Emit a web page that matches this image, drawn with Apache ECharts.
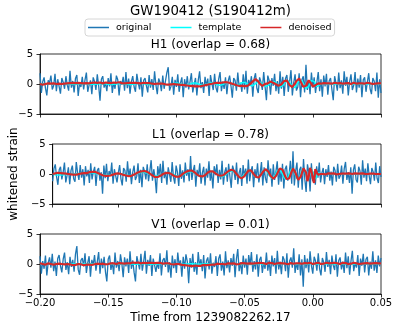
<!DOCTYPE html>
<html>
<head>
<meta charset="utf-8">
<title>GW190412 (S190412m)</title>
<script src="https://cdn.jsdelivr.net/npm/echarts@6/dist/echarts.min.js"></script>
<style>
  html, body { margin: 0; padding: 0; background: #fff; }
  #chart { width: 398px; height: 329px; }
</style>
</head>
<body>
<div id="chart"></div>
<script>
'use strict';

// samples every 1 ms from -0.200 s to +0.050 s (251 points)
var T_START = -200;   // ms
var SERIES_NAMES = ['original', 'template', 'denoised'];
var PANEL_TITLES = ['H1 (overlap = 0.68)', 'L1 (overlap = 0.78)', 'V1 (overlap = 0.01)'];
var X_TICKS = [-0.20, -0.15, -0.10, -0.05, 0.00, 0.05];
var Y_TICKS = [-5, 0, 5];

var h1Original = [
  1.8,-1.5,0.4,1.1,-0.7,-1.9,0.6,0.2,1.4,-0.9,-0.3,1.7,-1.2,0.8,-0.4,-1.6,1.0,0.3,-0.8,1.3,-0.2,-1.1,2.2,-0.6,0.5,
  -1.4,0.9,1.5,-2.0,0.1,-0.5,1.2,-0.9,0.7,1.9,-1.3,-0.2,0.6,-1.7,1.1,0.4,-1.0,1.6,-0.3,-2.8,0.8,1.3,-0.6,0.2,-1.2,
  1.0,-0.4,1.8,-1.5,0.3,-0.8,1.4,0.7,-1.9,0.5,-0.1,1.2,-1.1,2.0,-0.7,0.9,-1.6,0.4,1.3,-0.5,-1.3,1.7,0.2,-0.9,1.1,
  -2.1,0.6,1.0,-0.3,-1.4,1.5,-0.6,0.8,-1.0,2.1,-0.2,-1.7,0.9,0.3,-1.2,1.4,-0.8,0.5,1.9,2.8,-1.1,-0.4,1.2,-1.8,0.7,
  -0.5,1.6,-1.3,0.2,1.1,-2.2,0.8,-0.6,1.3,-0.9,0.4,1.8,-1.4,-0.1,1.0,-1.9,0.6,2.1,-0.7,0.3,-1.5,1.2,-0.4,0.9,-2.0,
  1.5,0.1,-1.0,1.7,-0.6,-1.4,0.8,2.0,-1.2,0.4,-0.8,1.1,-1.7,0.5,1.4,-0.3,-2.3,1.0,0.6,-1.1,1.9,-0.5,0.2,-1.3,1.6,
  -0.9,2.2,-1.6,0.7,-0.2,1.3,-2.1,0.9,1.8,-0.7,-1.5,1.1,0.3,-1.0,2.0,-0.4,-2.7,1.4,0.6,-1.8,1.0,-0.3,1.7,-1.2,0.5,
  -1.6,2.1,-0.8,1.2,-2.0,0.9,1.5,-1.3,0.4,2.3,-1.9,0.2,1.6,-1.1,-0.5,1.8,-2.2,0.7,1.3,-1.4,3.2,-1.0,0.6,-1.7,1.9,
  -0.6,1.1,-1.5,0.3,2.0,-1.2,0.8,-2.1,1.4,-0.4,1.7,-1.8,0.5,1.0,-0.9,-2.7,1.3,0.2,-1.1,1.9,-0.7,0.6,-1.6,2.1,-0.3,
  1.2,-1.9,0.4,1.6,-1.0,-0.2,2.0,-1.4,0.9,-0.6,1.5,-2.2,0.7,1.1,-1.3,0.3,1.8,-0.8,-1.7,1.0,0.5,-1.2,1.9,-2.3,0.8,
  -1.5
];
var h1Template = [
  0,0.02,0.04,0.05,0.05,0.04,0.02,0,-0.02,-0.04,-0.05,-0.05,-0.04,-0.02,0,0.02,0.04,0.05,0.05,0.04,0.02,0,-0.02,-0.04,-0.05,
  -0.05,-0.04,-0.02,0,0.02,0.04,0.06,0.06,0.05,0.03,0,-0.03,-0.05,-0.06,-0.06,-0.04,-0.02,0,0.03,0.05,0.07,0.07,0.05,0.03,0,
  -0.03,-0.06,-0.07,-0.07,-0.05,-0.02,0.01,0.04,0.07,0.08,0.07,0.05,0.02,-0.02,-0.05,-0.08,-0.09,-0.08,-0.05,-0.02,0.02,0.06,0.09,0.1,0.09,
  0.06,0.02,-0.02,-0.06,-0.1,-0.11,-0.1,-0.07,-0.03,0.02,0.07,0.11,0.12,0.1,0.06,0.01,-0.05,-0.1,-0.13,-0.13,-0.1,-0.05,0.01,0.07,0.12,
  0.15,0.14,0.1,0.04,-0.03,-0.1,-0.15,-0.17,-0.14,-0.08,0,0.08,0.15,0.18,0.17,0.11,0.03,-0.06,-0.14,-0.19,-0.19,-0.14,-0.05,0.05,0.14,
  0.2,0.21,0.16,0.07,-0.04,-0.14,-0.21,-0.23,-0.18,-0.08,0.04,0.16,0.24,0.25,0.19,0.08,-0.06,-0.18,-0.26,-0.27,-0.2,-0.07,0.08,0.21,0.29,
  0.28,0.19,0.04,-0.13,-0.27,-0.33,-0.28,-0.13,0.06,0.25,0.36,0.35,0.22,0.02,-0.2,-0.36,-0.41,-0.32,-0.12,0.13,0.35,0.46,0.42,0.22,-0.06,
  -0.33,-0.5,-0.49,-0.28,0.03,0.35,0.56,0.55,0.31,-0.06,-0.42,-0.63,-0.58,-0.26,0.18,0.56,0.72,0.55,0.12,-0.38,-0.72,-0.74,-0.38,0.16,0.6,
  0.7,0.4,-0.1,-0.45,-0.4,-0.15,0.05,0.1,0.05,-0.02,-0.03,0,0.01,0,0,0,0,0,0,0,0,0,0,0,0,
  0,0,0,0,0,0,0,0,0,0,0,0,0,0,0,0,0,0,0,0,0,0,0,0,0,
  0
];
var h1Denoised = [
  0.0,0.1,-0.1,0.05,0.0,-0.05,0.1,0.0,0.05,-0.05,0.1,0.05,0.0,0.1,0.05,0.15,0.0,0.1,0.05,0.15,0.1,0.05,0.15,0.1,0.2,
  0.1,0.15,0.05,0.2,0.1,0.15,0.2,0.1,0.25,0.15,0.2,0.1,0.25,0.2,0.15,0.25,0.1,0.2,0.15,0.25,0.2,0.1,0.2,0.25,0.15,
  0.2,0.3,0.15,0.2,0.25,0.1,0.2,0.15,0.3,0.2,0.15,0.25,0.1,0.2,0.15,0.25,0.2,0.1,0.2,0.15,0.2,0.1,0.15,0.2,0.1,
  0.15,0.2,0.1,0.15,0.05,0.15,0.1,0.05,0.1,0.0,0.1,0.05,0.0,0.05,-0.05,0.05,0.0,-0.05,0.05,-0.1,0.0,-0.05,-0.1,0.0,-0.1,
  -0.05,-0.15,-0.1,-0.2,-0.15,-0.25,-0.2,-0.3,-0.25,-0.35,-0.3,-0.4,-0.35,-0.45,-0.4,-0.5,-0.4,-0.45,-0.35,-0.4,-0.25,-0.3,-0.15,-0.2,-0.05,
  0.0,0.05,0.1,0.15,0.1,0.2,0.25,0.2,0.3,0.25,0.35,0.3,0.35,0.25,0.2,0.1,0.05,-0.05,-0.1,-0.2,-0.25,-0.3,-0.35,-0.3,-0.4,
  -0.35,-0.4,-0.3,-0.2,0.0,0.2,0.45,0.65,0.8,0.75,0.45,0.1,-0.2,-0.3,-0.15,0.0,0.15,0.1,0.3,0.4,0.35,0.2,0.05,-0.05,-0.2,
  -0.3,-0.25,-0.05,0.25,0.5,0.6,0.55,0.2,-0.2,-0.45,-0.5,-0.3,0.1,0.5,0.8,0.9,0.6,0.0,-0.45,-0.6,-0.3,0.2,0.6,0.5,0.0,
  -0.4,-0.5,-0.2,0.05,0.1,0.15,0.05,0.1,0.15,0.05,0.1,0.0,0.1,0.15,0.05,0.1,0.2,0.05,0.1,0.0,0.15,0.1,0.05,0.15,0.1,
  0.05,0.15,0.1,0.0,0.1,0.2,0.1,0.05,0.15,0.1,0.0,0.1,0.15,0.05,0.1,0.2,0.05,0.1,0.15,0.0,0.1,0.05,0.15,0.1,0.05,
  0.1
];

var l1Original = [
  -1.2,0.9,1.6,-0.5,-1.8,0.7,1.2,-0.9,0.3,1.9,-1.4,-0.2,1.1,-1.7,0.6,1.4,-0.8,-1.3,2.0,0.2,-1.0,1.5,-0.6,0.8,-1.9,
  1.3,-0.4,0.7,-1.5,1.8,-0.9,0.4,1.2,-2.0,0.6,1.0,-1.1,0.3,-3.3,1.4,-0.7,1.7,-1.2,0.5,-0.3,1.9,-1.6,0.8,1.1,-1.4,
  0.2,1.5,-0.8,-1.9,1.0,0.6,-1.3,2.1,-0.5,0.9,-1.7,0.3,1.4,-1.0,-0.4,1.8,-1.5,0.7,-2.2,1.2,0.4,-0.9,1.6,-1.2,0.5,
  2.3,-1.1,0.8,-0.6,-3.2,1.3,-0.2,1.7,-1.5,2.2,-0.7,0.4,-1.8,1.1,0.9,-1.3,2.0,-0.5,-1.6,1.4,0.3,-2.0,1.6,-0.8,0.6,
  -1.4,1.9,-0.3,0.8,-1.2,3.0,-1.0,0.5,1.5,-2.1,0.7,-0.4,1.8,-1.6,0.2,1.2,-1.9,0.9,-0.6,2.1,-1.1,0.4,-2.4,1.3,-0.2,
  1.6,-1.5,0.7,-0.9,2.2,-1.8,0.3,1.1,-1.3,1.7,-0.5,-2.3,1.4,0.6,-1.0,1.9,-1.7,0.2,1.0,-2.0,1.5,-0.4,0.9,-1.6,2.4,
  -1.2,0.5,1.3,-2.2,0.8,-0.6,1.8,-1.4,0.1,2.0,-1.9,1.1,-0.7,-1.5,2.3,-0.3,0.9,-2.1,1.6,-1.0,0.4,2.1,-1.8,0.6,-1.3,
  1.7,-2.4,0.8,1.4,-1.1,-0.2,2.2,-1.6,3.8,-1.9,0.5,1.9,-2.3,0.7,1.2,-2.6,2.5,-0.9,-3.0,1.6,0.3,-2.9,1.8,-1.2,0.4,
  -1.8,1.3,-0.6,1.9,-1.4,0.2,1.0,-1.7,0.8,-0.5,1.5,-1.1,0.4,-1.9,1.2,0.6,-1.3,1.7,-0.8,-0.3,1.4,-1.6,0.9,2.0,-1.0,
  0.3,-1.5,1.1,-3.3,0.7,1.6,-0.9,-1.4,1.2,0.5,-1.8,2.3,-0.6,0.9,-1.2,1.8,-0.3,-1.7,1.0,0.4,-1.1,1.9,-0.7,-1.5,1.3,
  -0.5
];
var l1Template = [
  -0.05,-0.08,-0.11,-0.13,-0.15,-0.16,-0.16,-0.15,-0.14,-0.12,-0.1,-0.08,-0.06,-0.04,-0.02,0,0.02,0.04,0.06,0.08,0.1,0.12,0.14,0.16,0.17,
  0.18,0.19,0.2,0.2,0.2,0.19,0.17,0.14,0.1,0.06,0.01,-0.04,-0.09,-0.13,-0.17,-0.2,-0.22,-0.22,-0.2,-0.17,-0.12,-0.07,-0.02,0.03,0.07,
  0.09,0.08,0.05,0.01,-0.04,-0.1,-0.16,-0.2,-0.23,-0.24,-0.22,-0.17,-0.1,-0.02,0.07,0.15,0.22,0.27,0.3,0.31,0.29,0.24,0.16,0.07,-0.04,
  -0.14,-0.23,-0.3,-0.34,-0.35,-0.32,-0.26,-0.17,-0.07,0.03,0.12,0.19,0.23,0.24,0.21,0.14,0.05,-0.06,-0.17,-0.27,-0.34,-0.37,-0.35,-0.28,-0.17,
  -0.04,0.1,0.23,0.33,0.39,0.4,0.36,0.27,0.14,-0.01,-0.16,-0.29,-0.38,-0.42,-0.4,-0.32,-0.19,-0.03,0.14,0.29,0.4,0.45,0.43,0.34,0.19,
  0.01,-0.17,-0.32,-0.42,-0.45,-0.4,-0.27,-0.09,0.11,0.3,0.45,0.52,0.5,0.37,0.16,-0.09,-0.33,-0.5,-0.57,-0.52,-0.34,-0.08,0.2,0.45,0.6,
  0.62,0.48,0.22,-0.1,-0.4,-0.6,-0.63,-0.48,-0.19,0.16,0.48,0.68,0.68,0.47,0.11,-0.29,-0.62,-0.76,-0.66,-0.33,0.12,0.55,0.82,0.83,0.52,
  0.02,-0.5,-0.85,-0.9,-0.6,-0.05,0.52,0.88,0.85,0.4,-0.25,-0.8,-0.98,-0.62,0.1,0.78,1.0,0.55,-0.3,-0.95,-0.85,0.05,0.9,0.85,-0.2,
  -0.85,-0.45,0.2,0.3,0.05,-0.1,-0.05,0.02,0.02,0,0,0,0,0,0,0,0,0,0,0,0,0,0,0,0,
  0,0,0,0,0,0,0,0,0,0,0,0,0,0,0,0,0,0,0,0,0,0,0,0,0,
  0
];
var l1Denoised = [
  0.0,0.05,0.1,0.15,0.2,0.2,0.15,0.2,0.1,0.15,0.05,0.05,0.0,0.05,-0.05,0.0,-0.1,-0.05,-0.1,-0.05,0.0,0.05,0.1,0.05,0.15,
  0.2,0.15,0.25,0.3,0.25,0.35,0.3,0.35,0.25,0.2,0.1,0.0,-0.1,-0.2,-0.25,-0.3,-0.35,-0.3,-0.35,-0.25,-0.2,-0.1,-0.05,0.05,0.0,
  0.1,0.05,0.0,-0.05,-0.15,-0.2,-0.25,-0.3,-0.35,-0.35,-0.3,-0.2,-0.1,0.0,0.15,0.25,0.35,0.4,0.45,0.5,0.5,0.45,0.35,0.2,0.05,
  -0.1,-0.25,-0.4,-0.5,-0.55,-0.5,-0.4,-0.3,-0.15,0.0,0.1,0.15,0.2,0.2,0.15,0.05,-0.1,-0.25,-0.4,-0.45,-0.5,-0.45,-0.35,-0.2,0.0,
  0.15,0.3,0.4,0.5,0.55,0.6,0.55,0.45,0.3,0.1,-0.1,-0.25,-0.35,-0.4,-0.4,-0.35,-0.2,0.0,0.2,0.35,0.45,0.5,0.45,0.3,0.1,
  -0.05,-0.2,-0.25,-0.3,-0.3,-0.2,-0.05,0.15,0.35,0.5,0.6,0.7,0.7,0.55,0.3,0.0,-0.3,-0.5,-0.65,-0.7,-0.6,-0.35,0.0,0.3,0.55,
  0.7,0.6,0.35,0.0,-0.3,-0.5,-0.6,-0.55,-0.3,0.0,0.35,0.6,0.8,0.75,0.45,0.05,-0.35,-0.65,-0.8,-0.7,-0.35,0.1,0.55,0.9,1.0,
  0.7,0.2,-0.35,-0.8,-1.0,-0.75,-0.2,0.45,0.9,0.7,0.15,-0.5,-0.95,-1.0,-0.4,0.35,0.95,1.1,0.2,-1.2,-0.4,1.0,0.6,-0.7,-1.5,
  0.8,0.3,-0.1,0.05,0.0,0.1,0.0,0.05,-0.05,0.05,0.1,0.0,0.05,0.0,0.1,0.05,-0.05,0.05,0.0,0.1,0.05,0.0,0.05,-0.05,0.05,
  0.0,0.1,0.05,0.0,0.05,0.1,0.0,0.05,-0.05,0.05,0.0,0.1,0.05,0.0,0.05,0.0,0.1,0.05,0.0,0.05,0.1,0.0,0.05,0.0,0.05,
  0.0
];

var v1Original = [
  1.3,-1.6,0.5,-0.8,1.4,-1.9,0.2,1.1,-0.6,1.7,-1.2,0.4,-2.0,0.9,1.5,-0.3,-1.4,0.8,1.9,-1.0,0.3,-1.7,1.2,-0.5,0.7,
  -1.3,1.6,3.0,-0.9,-1.8,0.6,1.0,-0.4,1.8,-1.5,0.2,1.3,-2.1,0.7,-0.2,1.5,-1.1,0.4,2.0,-1.6,0.9,-0.7,1.2,-1.3,-2.9,
  0.8,1.4,-1.0,0.3,-1.7,1.9,-0.6,0.5,-1.2,1.6,0.1,-2.2,1.1,-0.4,0.9,-1.5,2.1,-0.8,0.6,-1.4,-2.9,1.3,0.2,-0.9,1.7,
  -1.1,0.4,2.2,-1.6,0.7,-0.3,1.5,-2.0,0.9,1.2,-1.3,0.2,-0.8,1.8,-1.9,0.6,1.0,-0.5,2.3,-1.4,0.3,-2.3,1.4,-0.7,0.8,
  -1.5,1.9,-0.2,0.6,-2.1,1.2,-0.8,1.6,0.4,-3.2,1.0,-0.6,1.7,-1.3,0.3,-1.8,2.0,-0.4,0.8,-1.2,1.5,-2.4,0.5,1.1,-0.9,
  1.8,-1.6,0.2,-0.5,1.3,-2.0,0.9,1.6,-1.1,0.4,-1.9,2.1,-0.7,0.6,-1.4,1.0,-0.3,1.7,-2.2,0.8,2.5,-1.2,0.3,-1.7,1.4,
  -0.6,0.9,-1.8,1.5,-0.2,2.0,-1.3,0.5,-0.9,1.6,-2.1,0.7,1.2,-1.5,0.3,-0.8,1.9,-1.1,0.6,-2.0,1.4,-0.4,1.0,-1.6,2.2,
  -0.9,0.4,-1.7,1.3,0.7,-1.2,1.8,-2.3,0.5,1.1,-0.6,2.6,-1.5,0.2,-1.0,1.6,-1.9,0.8,-3.8,1.5,-0.7,0.9,-1.4,2.1,-0.3,
  -1.6,1.2,0.5,-1.1,1.8,-0.8,-1.9,1.0,0.3,-1.3,2.0,-0.5,0.7,-1.7,1.4,-0.2,-1.0,1.6,-2.1,0.6,1.1,-0.9,0.4,-1.5,1.9,
  -0.7,1.3,-1.8,0.5,2.2,-1.2,0.2,-0.6,1.5,-2.0,0.9,-0.3,1.7,-1.4,0.8,1.2,-1.9,0.4,-0.8,2.1,-1.1,0.6,-1.5,1.4,-0.4,
  1.0
];
var v1Template = [
  0,0,0.01,0.01,0.02,0.02,0.02,0.01,0.01,0,0,-0.01,-0.01,-0.02,-0.02,-0.02,-0.01,-0.01,0,0,0.01,0.01,0.02,0.02,0.02,
  0.01,0.01,0,-0.01,-0.01,-0.02,-0.02,-0.02,-0.01,0,0.01,0.02,0.02,0.03,0.02,0.01,0,-0.01,-0.02,-0.03,-0.03,-0.02,-0.01,0,0.01,
  0.02,0.03,0.03,0.02,0.01,0,-0.02,-0.03,-0.03,-0.02,-0.01,0.01,0.02,0.03,0.04,0.03,0.02,0,-0.02,-0.03,-0.04,-0.03,-0.02,0,0.02,
  0.03,0.04,0.04,0.03,0.01,-0.01,-0.03,-0.04,-0.04,-0.03,-0.01,0.01,0.03,0.05,0.05,0.03,0.01,-0.02,-0.04,-0.05,-0.04,-0.02,0,0.03,0.05,
  0.05,0.04,0.02,-0.01,-0.04,-0.05,-0.05,-0.03,0,0.03,0.05,0.06,0.04,0.01,-0.02,-0.05,-0.06,-0.05,-0.02,0.01,0.04,0.06,0.06,0.03,0,
  -0.03,-0.06,-0.07,-0.05,-0.01,0.03,0.06,0.07,0.05,0.01,-0.03,-0.06,-0.07,-0.05,-0.01,0.04,0.07,0.07,0.04,-0.01,-0.05,-0.08,-0.07,-0.03,0.02,
  0.06,0.08,0.06,0.01,-0.04,-0.08,-0.08,-0.04,0.01,0.06,0.09,0.07,0.02,-0.04,-0.08,-0.09,-0.05,0.01,0.07,0.1,0.07,0.01,-0.06,-0.1,-0.08,
  -0.02,0.05,0.1,0.09,0.03,-0.05,-0.1,-0.08,-0.01,0.07,0.11,0.07,-0.02,-0.1,-0.1,-0.02,0.08,0.12,0.05,-0.07,-0.12,-0.05,0.08,0.1,-0.03,
  -0.1,-0.04,0.03,0.02,0,0,0,0,0,0,0,0,0,0,0,0,0,0,0,0,0,0,0,0,0,
  0,0,0,0,0,0,0,0,0,0,0,0,0,0,0,0,0,0,0,0,0,0,0,0,0,
  0
];
var v1Denoised = [
  0.1,0.3,0.0,0.15,-0.1,0.05,0.1,-0.05,0.0,0.1,-0.1,0.05,0.0,-0.05,0.05,-0.1,0.0,-0.15,-0.05,-0.1,0.0,-0.15,-0.05,-0.1,-0.2,
  -0.05,-0.15,-0.1,0.0,-0.15,-0.05,-0.1,-0.2,-0.05,-0.1,0.0,-0.1,-0.05,-0.15,0.0,-0.05,-0.1,0.05,-0.05,0.0,-0.1,0.05,0.0,-0.05,0.1,
  0.0,0.05,0.1,-0.05,0.1,0.05,0.0,0.1,0.15,0.05,0.1,0.2,0.05,0.15,0.1,0.2,0.1,0.15,0.25,0.1,0.2,0.15,0.25,0.2,0.1,
  0.25,0.2,0.3,0.15,0.25,0.2,0.3,0.2,0.25,0.15,0.25,0.2,0.1,0.2,0.15,0.05,0.15,0.1,0.0,0.1,0.05,0.0,0.1,-0.05,0.05,
  0.0,-0.1,0.0,-0.05,-0.15,-0.1,-0.2,-0.15,-0.25,-0.2,-0.3,-0.25,-0.35,-0.3,-0.25,-0.35,-0.3,-0.2,-0.3,-0.25,-0.15,-0.25,-0.2,-0.1,-0.15,
  -0.05,-0.1,0.0,-0.1,-0.05,0.05,-0.05,0.0,-0.1,0.0,0.05,-0.05,0.0,0.1,-0.05,0.05,0.0,0.1,0.05,-0.05,0.1,0.0,0.05,0.15,0.05,
  0.1,0.2,0.05,0.15,0.1,0.2,0.05,0.15,0.1,0.0,0.15,0.1,0.2,0.05,0.1,0.15,0.0,0.1,0.2,0.05,0.15,0.1,0.0,0.15,0.1,
  0.05,0.15,0.0,0.1,0.2,0.05,0.1,-0.05,0.1,0.15,0.0,0.05,0.15,0.1,0.0,0.1,0.2,0.05,0.1,0.15,0.0,0.1,0.05,0.2,0.1,
  0.0,0.15,0.1,0.05,0.2,0.1,0.0,0.15,0.05,0.1,0.2,0.05,0.1,0.0,0.15,0.1,0.2,0.05,0.1,0.15,0.0,0.1,0.2,0.05,0.15,
  0.1,0.0,0.15,0.05,0.1,0.2,0.05,0.1,0.15,0.0,0.1,0.05,0.2,0.1,0.0,0.15,0.1,0.05,0.2,0.1,0.05,0.15,0.0,0.1,0.2,
  0.05
];

var panels = [
  [h1Original, h1Template, h1Denoised],
  [l1Original, l1Template, l1Denoised],
  [v1Original, v1Template, v1Denoised]
];

var COLORS = ['#1f77b4', '#00ffff', '#d62728'];
var WIDTHS = [1.3, 1.5, 2.2];
var FONT = 'DejaVu Sans';
var GRID_LEFT = 40;
var GRID_WIDTH = 341;
var GRID_TOPS = [54, 144, 234];
var GRID_HEIGHT = 60;

function toPoints(values) {
  return values.map(function(v, i) {
    return [(T_START + i) / 1000, v];
  });
}

function minusSign(s) {
  return String(s).replace('-', '\u2212');
}

var grids = [];
var xAxes = [];
var yAxes = [];
var series = [];
var graphics = [{
  type: 'text',
  style: {
    text: 'GW190412 (S190412m)',
    x: GRID_LEFT + GRID_WIDTH / 2,
    y: 12,
    textAlign: 'center',
    textVerticalAlign: 'middle',
    font: '13.3px "' + FONT + '"',
    fill: '#000'
  }
}];

panels.forEach(function(panel, p) {
  var last = p === panels.length - 1;
  grids.push({
    left: GRID_LEFT,
    top: GRID_TOPS[p],
    width: GRID_WIDTH,
    height: GRID_HEIGHT,
    show: true,
    borderColor: '#000',
    borderWidth: 0.8,
    backgroundColor: '#fff'
  });
  xAxes.push({
    gridIndex: p,
    type: 'value',
    min: X_TICKS[0],
    max: X_TICKS[X_TICKS.length - 1],
    interval: 0.05,
    axisLine: { show: true, onZero: false, lineStyle: { color: '#000', width: 0.8 } },
    axisTick: { show: true, length: 3.5, lineStyle: { color: '#000', width: 0.8 } },
    splitLine: { show: false },
    axisLabel: {
      show: last,
      color: '#000',
      fontSize: 10,
      fontFamily: FONT,
      margin: 4,
      formatter: function(v) {
        if (Math.abs(v) < 1e-9) return '0.00';
        return minusSign(v.toFixed(2));
      }
    },
    name: last ? 'Time from 1239082262.17' : '',
    nameLocation: 'middle',
    nameGap: 18,
    nameTextStyle: { color: '#000', fontSize: 12, fontFamily: FONT }
  });
  yAxes.push({
    gridIndex: p,
    type: 'value',
    min: Y_TICKS[0],
    max: Y_TICKS[Y_TICKS.length - 1],
    interval: 5,
    axisLine: { show: true, onZero: false, lineStyle: { color: '#000', width: 0.8 } },
    axisTick: { show: true, length: 3.5, lineStyle: { color: '#000', width: 0.8 } },
    splitLine: { show: false },
    axisLabel: {
      color: '#000',
      fontSize: 10,
      fontFamily: FONT,
      margin: 7,
      formatter: function(v) { return minusSign(v); }
    },
    name: p === 1 ? 'whitened strain' : '',
    nameLocation: 'middle',
    nameGap: 27.5,
    nameRotate: 90,
    nameTextStyle: { color: '#000', fontSize: 12, fontFamily: FONT }
  });
  panel.forEach(function(values, k) {
    series.push({
      name: SERIES_NAMES[k],
      type: 'line',
      xAxisIndex: p,
      yAxisIndex: p,
      data: toPoints(values),
      showSymbol: false,
      symbol: 'none',
      color: COLORS[k],
      lineStyle: { color: COLORS[k], width: WIDTHS[k] },
      emphasis: { disabled: true }
    });
  });
  graphics.push({
    type: 'text',
    style: {
      text: PANEL_TITLES[p],
      x: GRID_LEFT + GRID_WIDTH / 2,
      y: GRID_TOPS[p] - 9.5,
      textAlign: 'center',
      textVerticalAlign: 'middle',
      font: '12px "' + FONT + '"',
      fill: '#000'
    }
  });
});

var chart = echarts.init(document.getElementById('chart'), null, { renderer: 'canvas' });

var option = {
  backgroundColor: '#fff',
  animation: false,
  legend: {
    data: SERIES_NAMES,
    left: 85,
    top: 19,
    padding: [3, 3, 3, 3],
    icon: 'rect',
    itemWidth: 21,
    itemHeight: 1.5,
    itemGap: 19,
    borderColor: '#cccccc',
    borderWidth: 0.8,
    borderRadius: 3,
    backgroundColor: '#fff',
    itemStyle: { borderWidth: 0 },
    textStyle: {
      color: '#000',
      fontSize: 9.5,
      fontFamily: FONT,
      lineHeight: 11,
      padding: [0, 0, 0, 2]
    }
  },
  grid: grids,
  xAxis: xAxes,
  yAxis: yAxes,
  series: series,
  graphic: graphics
};

chart.setOption(option);
</script>
</body>
</html>
